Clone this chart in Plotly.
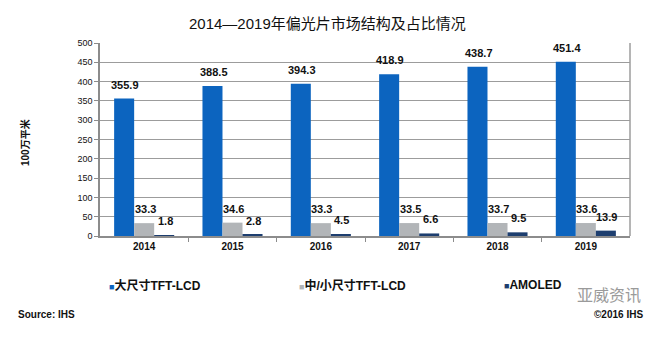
import plotly.graph_objects as go

years = ["2014", "2015", "2016", "2017", "2018", "2019"]
large_lcd = [355.9, 388.5, 394.3, 418.9, 438.7, 451.4]
small_lcd = [33.3, 34.6, 33.3, 33.5, 33.7, 33.6]
amoled = [1.8, 2.8, 4.5, 6.6, 9.5, 13.9]
series_names = ["大尺寸TFT-LCD", "中/小尺寸TFT-LCD", "AMOLED"]
colors = ["#0c64bf", "#b2b5b8", "#1d3e6f"]
y_ticks = [0, 50, 100, 150, 200, 250, 300, 350, 400, 450, 500]

FONT = "Liberation Sans, Arial, Noto Sans CJK SC"
xs = list(range(len(years)))
fig = go.Figure()
series = [large_lcd, small_lcd, amoled]
for name, vals, col in zip(series_names, series, colors):
    fig.add_trace(go.Bar(x=xs, y=vals, name=name, marker_color=col,
                         marker_line_width=0, showlegend=False))

annotations = []
# data labels, placed above each bar (group offsets: -20, 0, +20 px)
offsets = [-20, 0, 20]
for vals, dx in zip(series, offsets):
    for xi, v in zip(xs, vals):
        annotations.append(dict(x=xi, y=v, xref="x", yref="y", text=f"<b>{v:.1f}</b>",
                                showarrow=False, xshift=dx + 1, yshift=14,
                                xanchor="center", yanchor="middle",
                                font=dict(size=11, color="#111", family=FONT)))

W, H = 667, 341
L, R, T, B = 100, 37, 43, 105
pw, ph = W - L - R, H - T - B

def px(x, y):
    return (x - L) / pw, (H - y - B) / ph

def add(x, y, xanchor="center", **kw):
    ax, ay = px(x, y)
    annotations.append(dict(x=ax, y=ay, xref="paper", yref="paper", showarrow=False,
                            xanchor=xanchor, yanchor="middle", **kw))

# title
add(327, 23, text="2014—2019年偏光片市场结构及占比情况",
    font=dict(size=15, color="#111", family=FONT))
# y axis title
add(25, 143, text="<b>100万平米</b>", textangle=-90, font=dict(size=10, color="#111", family=FONT))
# legend
leg_x = [107, 297, 502]
for name, col, lx in zip(series_names, colors, leg_x):
    add(lx, 285, xanchor="left",
        text=f'<span style="color:{col};font-size:9px">■</span><b>{name}</b>',
        font=dict(size=12, color="#111", family=FONT))
# watermark
add(575, 294, xanchor="left", text="亚威资讯", font=dict(size=16, color="#9a9a9a", family="Noto Sans CJK SC"))
# source / copyright
add(16, 314, xanchor="left", text="<b>Source: IHS</b>", font=dict(size=10, color="#111", family=FONT))
add(645, 314, xanchor="right", text="<b>©2016 IHS</b>", font=dict(size=10, color="#111", family=FONT))

fig.update_layout(
    width=W, height=H, margin=dict(l=L, r=R, t=T, b=B, pad=0),
    paper_bgcolor="white", plot_bgcolor="white",
    barmode="group", bargap=0.32, bargroupgap=0,
    annotations=annotations,
    xaxis=dict(range=[-0.5, len(years) - 0.5], tickvals=xs, ticktext=[f"<b>{y}</b>" for y in years],
               showline=True, linecolor="#8c8c8c", linewidth=1.5, ticks="",
               minor=dict(tickvals=[i + 0.5 for i in xs[:-1]], ticks="outside", ticklen=4,
                          tickcolor="#8c8c8c", showgrid=False),
               tickfont=dict(size=10, color="#111", family=FONT), showgrid=False, zeroline=False),
    yaxis=dict(range=[0, 500], tickvals=y_ticks, showline=True, linecolor="#8c8c8c", linewidth=1.5,
               ticks="outside", ticklen=4, tickcolor="#8c8c8c", gridcolor="#9c9c9c", gridwidth=1,
               tickfont=dict(size=9, color="#111", family=FONT), tickprefix="<b>", ticksuffix="</b>",
               zeroline=False),
    shapes=[dict(type="line", xref="paper", yref="paper", x0=1, x1=1, y0=0, y1=1,
                 line=dict(color="#9c9c9c", width=1.5))],
)
fig.write_html("out.html")
